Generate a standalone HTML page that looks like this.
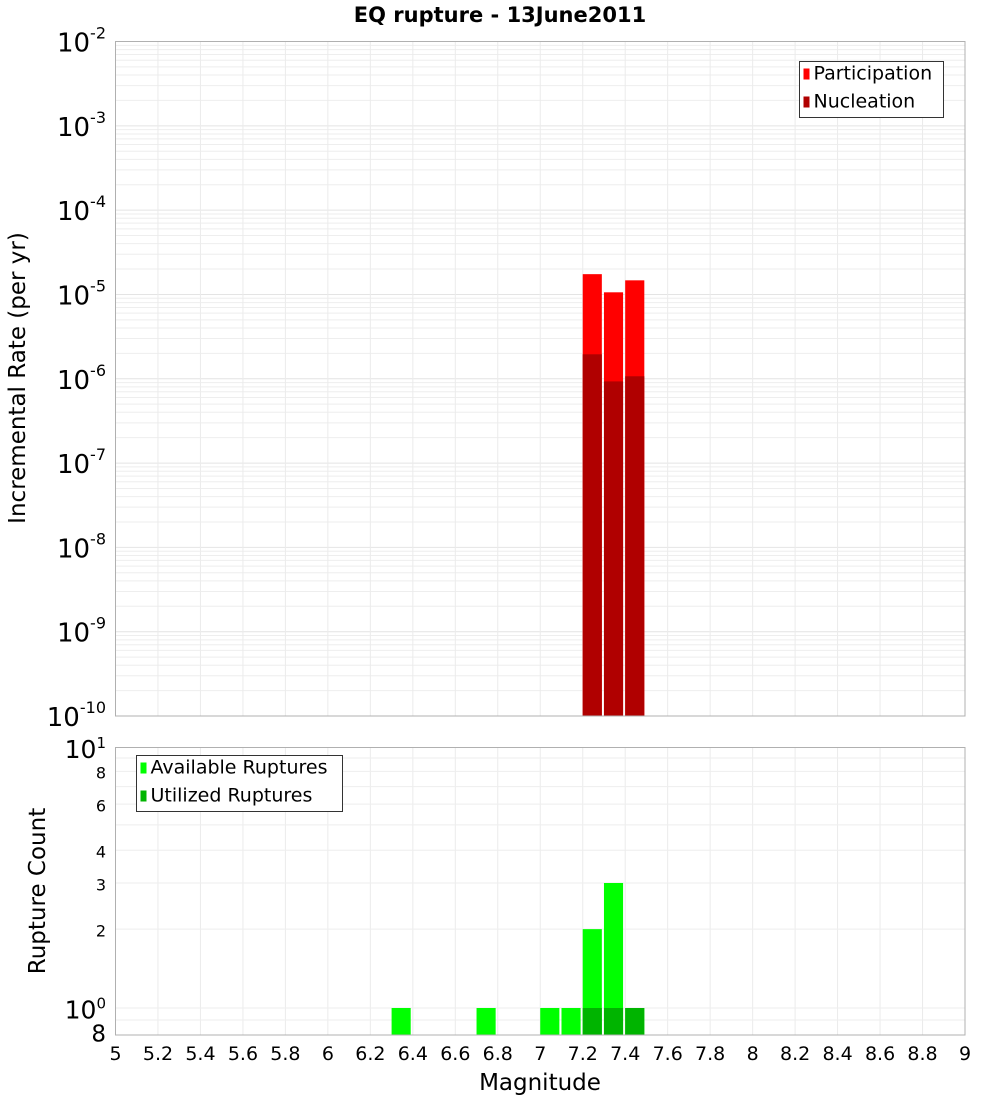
<!DOCTYPE html>
<html><head><meta charset="utf-8"><style>
body{margin:0;background:#fff;font-family:"Liberation Sans","DejaVu Sans",sans-serif}
</style></head><body>
<svg id="c" width="1000" height="1100" xmlns="http://www.w3.org/2000/svg" font-family="DejaVu Sans, Liberation Sans, sans-serif">
<rect width="1000" height="1100" fill="#fff"/>
<text x="500" y="22" text-anchor="middle" font-size="21" font-weight="bold">EQ rupture - 13June2011</text>
<text transform="translate(25,378) rotate(-90)" text-anchor="middle" font-size="23">Incremental Rate (per yr)</text>
<text transform="translate(45,891) rotate(-90)" text-anchor="middle" font-size="23">Rupture Count</text>
<text x="540" y="1090" text-anchor="middle" font-size="23">Magnitude</text>
<g id="g"></g>
</svg>
<script>
const binStarts=[7.2,7.3,7.4];
const participation=[1.74e-5,1.06e-5,1.47e-5];
const nucleation=[1.95e-6,9.3e-7,1.07e-6];
const availBins=[6.3,6.7,7.0,7.1,7.2,7.3,7.4];
const available=[1,1,1,1,2,3,1];
const utilBins=[7.2,7.3,7.4];
const utilized=[1,1,1];
const xTicks=[5,5.2,5.4,5.6,5.8,6,6.2,6.4,6.6,6.8,7,7.2,7.4,7.6,7.8,8,8.2,8.4,8.6,8.8,9];
const topExps=[-2,-3,-4,-5,-6,-7,-8,-9,-10];

const NS='http://www.w3.org/2000/svg',g=document.getElementById('g');
function mk(t,a,txt){const e=document.createElementNS(NS,t);for(const k in a)e.setAttribute(k,a[k]);if(txt!==undefined)e.textContent=txt;g.appendChild(e);return e;}
const L=115.5,R=965,T1=41.5,B1=716,T2=747.5,B2=1035;
const x=m=>L+(m-5)/4*(R-L);
const y1=v=>T1+(-2-Math.log10(v))/8*(B1-T1);
const y2=v=>1008-Math.log10(v)*262;
for(let e=-10;e<-2;e++)for(let k=1;k<10;k++){const yy=y1(k*Math.pow(10,e));const l=mk('line',{x1:L,x2:R,y1:yy,y2:yy,stroke:k==1?'#e4e4e4':'#eeeeee','stroke-width':1});
}
for(let m=5.2;m<9;m+=0.2){for(const [a,b] of [[T1,B1],[T2,B2]]){const l=mk('line',{x1:x(m),x2:x(m),y1:a,y2:b,stroke:'#ebebeb'});
}}
for(let v=1;v<=10;v++){const yy=y2(v);if(yy<T2)continue;const l=mk('line',{x1:L,x2:R,y1:yy,y2:yy,stroke:'#eeeeee'});
}
{const l=mk('line',{x1:L,x2:R,y1:y2(0.9),y2:y2(0.9),stroke:'#eeeeee'});}
binStarts.forEach((b,i)=>{
 const r=mk('rect',{x:x(b),y:y1(participation[i]),width:x(b+0.09)-x(b),height:B1-y1(participation[i]),fill:'#ff0000'});
 
 const n=mk('rect',{x:x(b),y:y1(nucleation[i]),width:x(b+0.09)-x(b),height:B1-y1(nucleation[i]),fill:'#b00000'});
 
});
availBins.forEach((b,i)=>{const r=mk('rect',{x:x(b),y:y2(available[i]),width:x(b+0.09)-x(b),height:B2-y2(available[i]),fill:'#00ff00'});
 });
utilBins.forEach((b,i)=>{const r=mk('rect',{x:x(b),y:y2(utilized[i]),width:x(b+0.09)-x(b),height:B2-y2(utilized[i]),fill:'#00b400'});
 });
for(const [a,b] of [[T1,B1],[T2,B2]]){const f=mk('rect',{x:L,y:a,width:R-L,height:b-a,fill:'none',stroke:'#b0b0b0'});
}
topExps.forEach(e=>{const yy=y1(Math.pow(10,e));const t=mk('text',{x:106,y:yy+10,'text-anchor':'end','font-size':26});
 
 t.innerHTML='10<tspan dy="-13" font-size="16">'+e+'</tspan>';});
const botLab=[[10,'10',1,25],[8,'8',null,16],[6,'6',null,16],[4,'4',null,16],[3,'3',null,16],[2,'2',null,16],[1,'10',0,25],[0.8,'8',null,23]];
botLab.forEach(([v,s,ex,fs])=>{const yy=y2(v)+(v==0.8?8:v==10?12:fs/3+2);const t=mk('text',{x:106,y:yy,'text-anchor':'end','font-size':fs});
 
 t.innerHTML=s+(ex!==null?'<tspan dy="-10" font-size="15">'+ex+'</tspan>':'');});
xTicks.forEach(m=>{const t=mk('text',{x:x(m),y:1060,'text-anchor':'middle','font-size':19},String(m));
 });
function legend(x0,y0,w,items,nm){const b=mk('rect',{x:x0,y:y0,width:w,height:56,fill:'#fff',stroke:'#333'});
 
 items.forEach(([c,s],i)=>{const sw=mk('rect',{x:x0+4,y:y0+7+i*28,width:6,height:11,fill:c});
 const t=mk('text',{x:x0+14,y:y0+18+i*28,'font-size':19},s);});}
legend(799.5,61.5,144,[['#ff0000','Participation'],['#b00000','Nucleation']],'top-legend');
legend(136.5,755.5,206,[['#00ff00','Available Ruptures'],['#00b400','Utilized Ruptures']],'bottom-legend');
</script>
</body></html>
